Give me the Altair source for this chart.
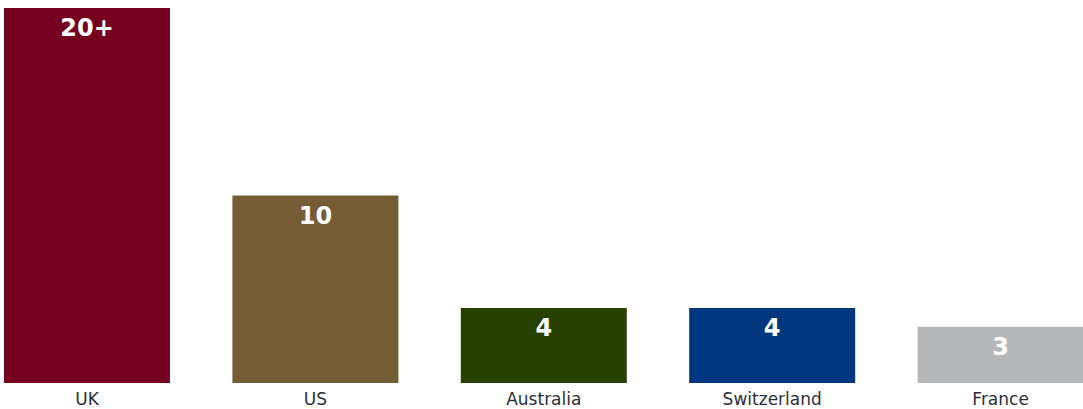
import altair as alt
import pandas as pd

countries = ["UK", "US", "Australia", "Switzerland", "France"]
values = [20, 10, 4, 4, 3]
labels = ["20+", "10", "4", "4", "3"]
colors = ["#750020", "#765C34", "#284000", "#00377E", "#B6B7B9"]

df = pd.DataFrame({"country": countries, "value": values, "label": labels})

x = alt.X("country:N", sort=countries, title=None,
          scale=alt.Scale(range=[4, 1083.6], paddingInner=0.2732, paddingOuter=0),
          axis=alt.Axis(labelAngle=0, domain=False, ticks=False, labelPadding=8,
                        labelFont="DejaVu Sans", labelFontSize=17, labelColor="#2a2f3a"))
y = alt.Y("value:Q", title=None, scale=alt.Scale(domain=[0, 20], range=[383, 8]), axis=None)

bars = alt.Chart(df).mark_bar().encode(
    x=x, y=y,
    color=alt.Color("country:N", scale=alt.Scale(domain=countries, range=colors), legend=None),
)
text = alt.Chart(df).mark_text(baseline="top", dy=9, color="white", font="DejaVu Sans",
                               fontWeight="bold", fontSize=24).encode(
    x=x, y=y, text="label:N"
)

chart = (bars + text).properties(
    width=1083, height=383,
    padding={"left": 0, "top": 0, "right": 0, "bottom": 26},
    autosize=alt.AutoSizeParams(type="none")
).configure_view(stroke=None)

chart.save("out.html", embed_options={"renderer": "svg", "actions": False})
